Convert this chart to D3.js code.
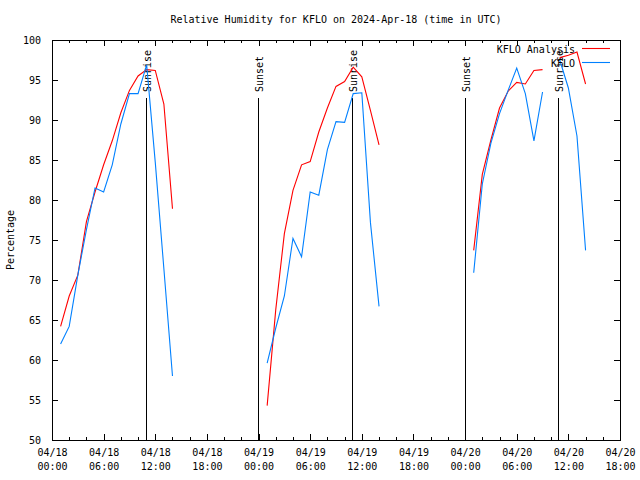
<!DOCTYPE html>
<html>
<head>
<meta charset="utf-8">
<script src="https://cdn.jsdelivr.net/npm/d3@7"></script>
<style>
  body { margin: 0; background: #fff; }
  svg { display: block; }
  text { font-family: "DejaVu Sans Mono", monospace; font-size: 10px; fill: #000; }
</style>
</head>
<body>
<div id="chart"></div>
<script>
// ---- data (hours since 2024-04-18 00:00 UTC) ----
const hours = [1,2,3,4,5,6,7,8,9,10,11,12,13,14,15,
               25,26,27,28,29,30,31,32,33,34,35,36,37,38,39,
               49,50,51,52,53,54,55,56,57,58,59,60,61,62];
const analysisValues = [64.2,68.0,70.6,77.3,81.0,84.4,87.4,90.9,93.7,95.5,96.3,96.2,92.0,78.9,null,
               54.3,66.3,75.8,81.2,84.4,84.8,88.5,91.5,94.2,94.8,96.6,95.4,91.2,86.9,null,
               73.7,83.2,87.5,91.5,93.6,94.7,94.5,96.2,96.3,null,97.8,98.1,98.5,94.5];
const observedValues = [62.0,64.2,70.6,76.3,81.5,81.0,84.4,89.5,93.3,93.3,96.9,84.7,71.4,58.0,null,
               59.6,64.0,68.0,75.2,72.9,81.0,80.6,86.3,89.8,89.7,93.3,93.4,77.2,66.7,null,
               70.9,82.0,87.1,90.8,93.7,96.5,93.3,87.4,93.5,null,97.5,94.0,88.0,73.7];
const seriesNames = ["KFLO Analysis", "KFLO"];
const seriesColors = ["#ff0000", "#0080ff"];
const sunEventHours = [10.9, 23.93, 34.88, 47.95, 58.85];
const sunEventLabels = ["Sunrise", "Sunset", "Sunrise", "Sunset", "Sunrise"];
const xTickHours = [0,6,12,18,24,30,36,42,48,54,60,66];
const xTickDates = ["04/18","04/18","04/18","04/18","04/19","04/19","04/19","04/19","04/20","04/20","04/20","04/20"];
const xTickTimes = ["00:00","06:00","12:00","18:00","00:00","06:00","12:00","18:00","00:00","06:00","12:00","18:00"];
const xMinorHours = [2,4,8,10,14,16,20,22,26,28,32,34,38,40,44,46,50,52,56,58,62,64];
const yTicks = [50,55,60,65,70,75,80,85,90,95,100];
const titleText = "Relative Humidity for KFLO on 2024-Apr-18 (time in UTC)";
const yLabel = "Percentage";

// ---- layout ----
const W = 640, H = 480;
const L = 52, R = 620, T = 40, B = 440;

const svg = d3.select("#chart").append("svg").attr("width", W).attr("height", H);

const x = d3.scaleLinear().domain([0, 66]).range([L, R]);
const y = d3.scaleLinear().domain([50, 100]).range([B, T]);

// axes (inward ticks)
const gx = svg.append("g").attr("transform", `translate(0,${B})`)
  .call(d3.axisBottom(x).tickValues(xTickHours).tickSize(-6).tickPadding(10).tickFormat(() => ""));
gx.select(".domain").remove();
gx.selectAll(".tick text").each(function(d, i) {
  const t = d3.select(this);
  t.text(null);
  t.append("tspan").attr("x", 0).attr("dy", "0.55em").text(xTickDates[i]);
  t.append("tspan").attr("x", 0).attr("dy", "1.4em").text(xTickTimes[i]);
});
const gxm = svg.append("g").attr("transform", `translate(0,${B})`)
  .call(d3.axisBottom(x).tickValues(xMinorHours).tickSize(-3).tickFormat(() => ""));
gxm.select(".domain").remove();
const gxt = svg.append("g").attr("transform", `translate(0,${T})`)
  .call(d3.axisTop(x).tickValues(xTickHours).tickSize(-6).tickFormat(() => ""));
gxt.select(".domain").remove();
const gxtm = svg.append("g").attr("transform", `translate(0,${T})`)
  .call(d3.axisTop(x).tickValues(xMinorHours).tickSize(-3).tickFormat(() => ""));
gxtm.select(".domain").remove();

const gy = svg.append("g").attr("transform", `translate(${L},0)`)
  .call(d3.axisLeft(y).tickValues(yTicks).tickSize(-6).tickPadding(11).tickFormat(d3.format("d")));
gy.select(".domain").remove();
const gyr = svg.append("g").attr("transform", `translate(${R},0)`)
  .call(d3.axisRight(y).tickValues(yTicks).tickSize(-6).tickFormat(() => ""));
gyr.select(".domain").remove();

svg.selectAll(".tick line").attr("stroke", "#000").attr("shape-rendering", "crispEdges");
svg.selectAll(".tick text").attr("fill", "#000").style("font-family", "'DejaVu Sans Mono', monospace").style("font-size", "10px");

// border
svg.append("rect").attr("x", L + 0.5).attr("y", T + 0.5).attr("width", R - L).attr("height", B - T)
  .attr("fill", "none").attr("stroke", "#000").attr("stroke-width", 1).attr("shape-rendering", "crispEdges");

// sun events
sunEventHours.forEach((h, i) => {
  const xp = Math.round(x(h)) + 0.5;
  svg.append("line").attr("x1", xp).attr("x2", xp).attr("y1", 98).attr("y2", B)
    .attr("stroke", "#000").attr("stroke-width", 1).attr("shape-rendering", "crispEdges");
  svg.append("text").attr("transform", `translate(${xp + 4},92) rotate(-90)`)
    .attr("text-anchor", "start").text(sunEventLabels[i]);
});

// series lines
const seriesValues = [analysisValues, observedValues];
const line = d3.line()
  .defined((d) => d[1] !== null)
  .x((d) => x(d[0]))
  .y((d) => y(d[1]));
seriesValues.forEach((vals, s) => {
  const pts = hours.map((h, i) => [h, vals[i]]);
  svg.append("path").datum(pts).attr("d", line)
    .attr("fill", "none").attr("stroke", seriesColors[s]).attr("stroke-width", 1.1);
});

// legend
seriesNames.forEach((name, i) => {
  const ly = 48 + i * 14;
  svg.append("text").attr("x", 575).attr("y", ly + 5).attr("text-anchor", "end").text(name);
  svg.append("line").attr("x1", 582).attr("x2", 610).attr("y1", ly + 0.5).attr("y2", ly + 0.5)
    .attr("stroke", seriesColors[i]).attr("stroke-width", 1.1);
});

// title & y label
svg.append("text").attr("x", 336).attr("y", 23).attr("text-anchor", "middle").text(titleText);
svg.append("text").attr("transform", "translate(14,240) rotate(-90)").attr("text-anchor", "middle").text(yLabel);
</script>
</body>
</html>
